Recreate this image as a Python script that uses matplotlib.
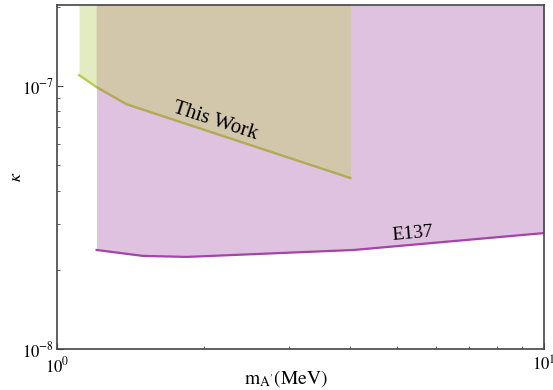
import numpy as np
import matplotlib
matplotlib.use("Agg")
import matplotlib.pyplot as plt
from matplotlib.patches import Polygon
from matplotlib.ticker import NullFormatter

#  DATA
this_work_m     = [1.11, 1.206, 1.39, 4.0]
this_work_kappa = [1.10e-7, 0.99e-7, 8.52e-8, 4.47e-8]

e137_m     = [1.206, 1.50, 1.85, 4.06, 10.0]
e137_kappa = [2.38e-8, 2.26e-8, 2.24e-8, 2.38e-8, 2.76e-8]

X_LIM = (1, 10)
Y_LIM = (1e-8, 2.03e-7)

#  COLOURS
PURPLE_FILL  = "#dfc1e0"
PURPLE_LINE  = "#a444ab"
YELLOW_FILL  = "#e3ebc0"
YELLOW_LINE  = "#bccb45"
OVERLAP_FILL = "#d2c6ab"
OVERLAP_LINE = "#b3a860"

plt.rcParams['font.family'] = ['Liberation Serif', 'DejaVu Serif']
plt.rcParams['mathtext.fontset'] = 'stix'

fig = plt.figure(figsize=(5.53, 3.90), dpi=100)
ax = fig.add_axes([0.103, 0.105, 0.881, 0.882])
ax.set_xscale('log')
ax.set_yscale('log')
ax.set_xlim(*X_LIM)
ax.set_ylim(*Y_LIM)

top = Y_LIM[1]

# This Work region (over white)
ax.fill_between(this_work_m, this_work_kappa, top, color=YELLOW_FILL, lw=0, zorder=1)
ax.plot(this_work_m, this_work_kappa, color=YELLOW_LINE, lw=1.6, zorder=3)

# E137 region
ax.fill_between(e137_m, e137_kappa, top, color=PURPLE_FILL, lw=0, zorder=2)
ax.plot(e137_m, e137_kappa, color=PURPLE_LINE, lw=1.6, zorder=4)

# overlap, clipped to E137 polygon
e137_poly = Polygon(list(zip(e137_m, e137_kappa)) + [(e137_m[-1], top), (e137_m[0], top)],
                    closed=True, transform=ax.transData, facecolor='none', edgecolor='none')
ov = ax.fill_between(this_work_m, this_work_kappa, top, color=OVERLAP_FILL, lw=0, zorder=2.5)
ov.set_clip_path(e137_poly)
ov_line, = ax.plot(this_work_m, this_work_kappa, color=OVERLAP_LINE, lw=1.6, zorder=3.5)
ov_line.set_clip_path(e137_poly)

# labels on curves
ax.text(2.11, 7.35e-8, "This Work", fontsize=15, rotation=-18,
        ha='center', va='center', zorder=5)
ax.text(5.36, 2.74e-8, "E137", fontsize=14, rotation=5,
        ha='center', va='center', zorder=5)

# axes styling
ax.set_xticks([1, 10])
ax.set_xticklabels([r'$10^{0}$', r'$10^{1}$'])
ax.set_yticks([1e-8, 1e-7])
ax.set_yticklabels([r'$10^{-8}$', r'$10^{-7}$'])
ax.xaxis.set_minor_formatter(NullFormatter())
ax.yaxis.set_minor_formatter(NullFormatter())
ax.tick_params(which='both', direction='in', top=False, right=False, labelsize=12,
               color='#444444')
ax.tick_params(which='major', length=4)
ax.tick_params(which='minor', length=2.5)
ax.tick_params(axis='x', pad=5)
ax.tick_params(axis='y', pad=2)

for side in ['left', 'top', 'right', 'bottom']:
    ax.spines[side].set_color('#444444')
    ax.spines[side].set_linewidth(1.2)
    ax.spines[side].set_zorder(6)

ax.set_xlabel(r"$\mathrm{m_{A^{\prime}}(MeV)}$", fontsize=14)
ax.set_ylabel(r"$\kappa$", fontsize=13, rotation=90)
ax.xaxis.set_label_coords(0.47, -0.055)
ax.yaxis.set_label_coords(-0.066, 0.5)

fig.savefig("out.png", dpi=100)
